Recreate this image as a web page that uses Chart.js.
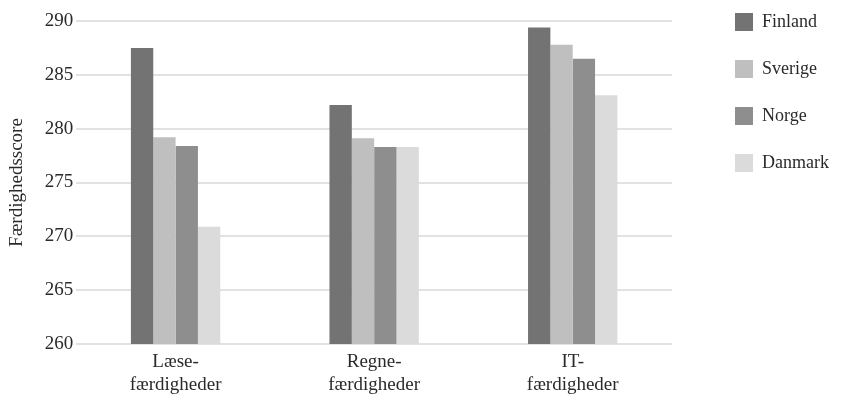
<!DOCTYPE html>
<html>
<head>
<meta charset="utf-8">
<script src="https://cdn.jsdelivr.net/npm/chart.js@4"></script>
<style>
  html, body { margin: 0; padding: 0; background: #fff; }
  #wrap { width: 844px; height: 394px; }
</style>
</head>
<body>
<div id="wrap"><canvas id="chart_skills"></canvas></div>
<script>
var categories = [['Læse-', 'færdigheder'], ['Regne-', 'færdigheder'], ['IT-', 'færdigheder']];
var finland = [287.5, 282.2, 289.4];
var sverige = [279.2, 279.1, 287.8];
var norge = [278.4, 278.3, 286.5];
var danmark = [270.9, 278.3, 283.1];
var yTicks = [260, 265, 270, 275, 280, 285, 290];

var serifFamily = "'Liberation Serif', Tinos, 'Times New Roman', serif";
Chart.defaults.font.family = serifFamily;
Chart.defaults.color = '#2a2a2a';

// legend sits further right than chart.js puts it, so widen and shift it
var legendWidth = 172;
var legendShiftX = 34;
var legendShiftY = -37;

var chart_skills = new Chart(document.getElementById('chart_skills'), {
    type: 'bar',
    data: {
        labels: categories,
        datasets: [
            { label: 'Finland', data: finland, backgroundColor: '#737373' },
            { label: 'Sverige', data: sverige, backgroundColor: '#bfbfbf' },
            { label: 'Norge', data: norge, backgroundColor: '#8e8e8e' },
            { label: 'Danmark', data: danmark, backgroundColor: '#dbdbdb' }
        ]
    },
    options: {
        animation: false,
        responsive: true,
        maintainAspectRatio: false,
        datasets: {
            bar: {
                categoryPercentage: 0.45,
                barPercentage: 1.0,
                borderWidth: 0
            }
        },
        layout: {
            padding: { top: 21, right: 0, bottom: -2, left: 4 }
        },
        plugins: {
            legend: {
                position: 'right',
                align: 'start',
                labels: {
                    boxWidth: 18,
                    boxHeight: 18,
                    padding: 29,
                    font: { family: serifFamily, size: 18 }
                }
            },
            tooltip: { enabled: false }
        },
        scales: {
            x: {
                grid: { display: false },
                border: { display: false },
                ticks: {
                    padding: -1,
                    maxRotation: 0,
                    font: { family: serifFamily, size: 19, lineHeight: 1.21 }
                }
            },
            y: {
                min: 260,
                max: 290,
                afterBuildTicks: function(axis) {
                    axis.ticks = yTicks.map(function(v) { return { value: v }; });
                },
                title: {
                    display: true,
                    text: 'Færdighedsscore',
                    font: { family: serifFamily, size: 19 },
                    padding: { top: 2, bottom: 13 }
                },
                grid: {
                    color: '#e2e2e2',
                    lineWidth: 2,
                    drawTicks: false
                },
                border: { display: false },
                ticks: {
                    padding: 3,
                    font: { family: serifFamily, size: 19 }
                }
            }
        }
    },
    plugins: [{
        id: 'legendPlacement',
        beforeInit: function(chart) {
            var legend = chart.legend;
            if (!legend) return;
            var fit = legend.fit;
            legend.fit = function() {
                fit.call(this);
                this.width = legendWidth;
            };
        },
        afterLayout: function(chart) {
            var legend = chart.legend;
            legend.left += legendShiftX;
            legend.right += legendShiftX;
            legend.top += legendShiftY;
            legend.bottom += legendShiftY;
        }
    }, {
        id: 'whiteBackground',
        beforeDraw: function(chart) {
            var ctx = chart.ctx;
            ctx.save();
            ctx.globalCompositeOperation = 'destination-over';
            ctx.fillStyle = 'white';
            ctx.fillRect(0, 0, chart.width, chart.height);
            ctx.restore();
        }
    }]
});
</script>
</body>
</html>
